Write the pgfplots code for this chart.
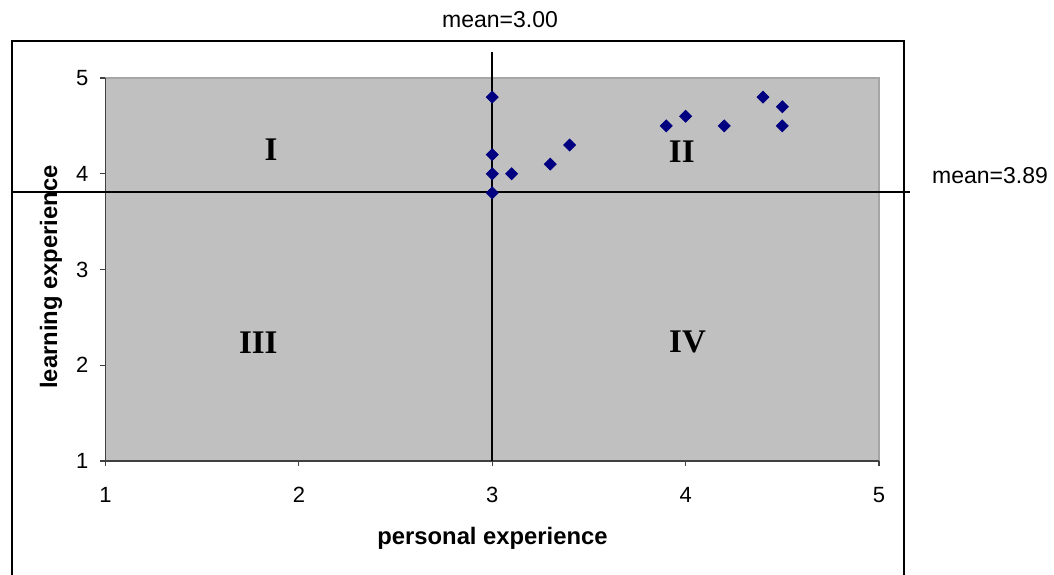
\documentclass[border=0pt]{standalone}
\usepackage{fontspec}
\setmainfont{Liberation Sans}
\newfontfamily\serifb{Liberation Serif}
\usepackage{pgfplots}
\pgfplotsset{compat=1.18}
\definecolor{plotbg}{RGB}{192,192,192}
\definecolor{navy}{RGB}{0,0,128}
\begin{document}
\begin{tikzpicture}[x=1pt,y=1pt]
\useasboundingbox (-52.75,-56.5) rectangle (474.25,230.5);
\draw[black, line width=1pt] (-46.75,-60) -- (-46.75,210) -- (399,210) -- (399,-60);
\begin{axis}[
  at={(0,0)}, anchor=south west,
  scale only axis, width=386.75pt, height=191.5pt,
  xmin=1, xmax=5, ymin=1, ymax=5,
  xtick={1,2,3,4,5}, ytick={1,2,3,4,5},
  clip=false,
  axis background/.style={fill=plotbg, draw=gray!70, line width=0.6pt},
  axis x line*=bottom, axis y line*=left,
  axis line style={-, black!75, line width=0.7pt},
  tick align=outside, major tick length=2.5pt,
  tick style={black!75, line width=0.6pt},
  ticklabel style={font=\fontsize{11}{13}\selectfont},
  /pgf/number format/assume math mode=true,
  xticklabel style={yshift=-6.9pt},
  yticklabel style={xshift=-2.5pt},
]
\addplot[black, line width=0.9pt, no marks] coordinates {(3,1) (3,5.27)};
\addplot[black, line width=0.9pt, no marks] coordinates {(0.5165,3.81) (5.16,3.81)};
\addplot[only marks, mark=square*, mark size=2.1pt, mark options={rotate=45, fill=navy, draw=navy}] coordinates {
(3,4.8) (3,4.2) (3,4.0) (3,3.8) (3.1,4.0) (3.3,4.1) (3.4,4.3)
(3.9,4.5) (4.0,4.6) (4.2,4.5) (4.4,4.8) (4.5,4.7) (4.5,4.5)
};
\node[font=\serifb\bfseries\fontsize{16.5}{18}\selectfont] at (axis cs:1.856,4.25) {I};
\node[font=\serifb\bfseries\fontsize{16.5}{18}\selectfont] at (axis cs:3.98,4.23) {II};
\node[font=\serifb\bfseries\fontsize{16.5}{18}\selectfont] at (axis cs:1.79,2.24) {III};
\node[font=\serifb\bfseries\fontsize{16.5}{18}\selectfont] at (axis cs:4.01,2.24) {IV};
\end{axis}
\node[font=\bfseries\fontsize{11.9}{14}\selectfont] at (193.5,-38.5) {personal experience};
\node[font=\bfseries\fontsize{11.9}{14}\selectfont, rotate=90] at (-27.25,92) {learning experience};
\node[font=\fontsize{11.5}{13}\selectfont] at (197.25,220.5) {mean=3.00};
\node[font=\fontsize{11.5}{13}\selectfont] at (442.25,142.75) {mean=3.89};
\end{tikzpicture}
\end{document}
